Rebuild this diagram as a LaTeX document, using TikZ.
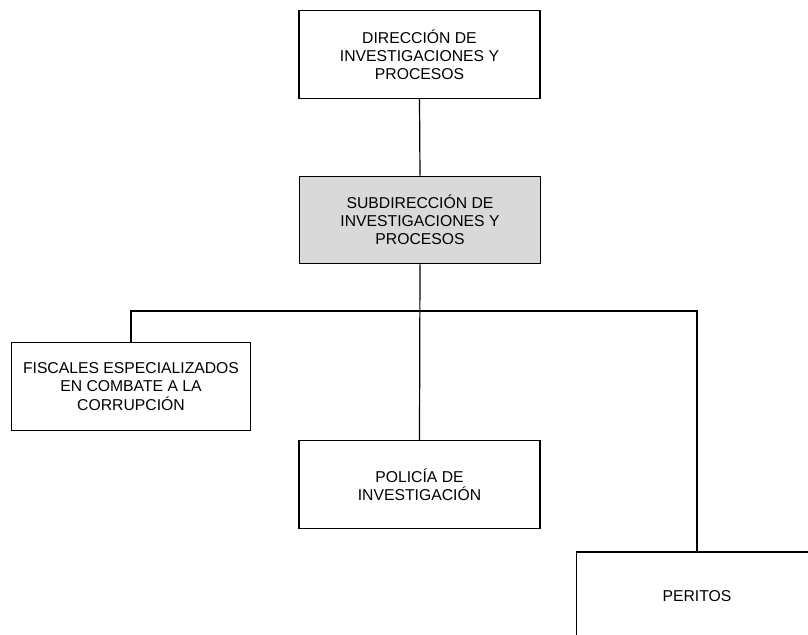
\documentclass[tikz,border=0pt]{standalone}
\usepackage{fontspec}
\setmainfont{Liberation Sans}
\definecolor{subgray}{RGB}{217,217,217}
\begin{document}
\begin{tikzpicture}[x=0.75pt,y=-0.75pt,
  orgbox/.style={draw=black, line width=0.9pt, fill=white, rectangle,
    minimum width=180.75pt, minimum height=65.5pt, align=center,
    inner sep=2pt, font=\fontsize{11.8pt}{13.6pt}\selectfont},
  link/.style={draw=black, line width=0.9pt}]
\clip (0,0) rectangle (808,635);
\useasboundingbox (0,0) rectangle (808,635);
\fill[white] (0,0) rectangle (808,635);
\node[orgbox] (dir) at (419.5,54.5) {DIRECCIÓN DE\\INVESTIGACIONES Y\\PROCESOS};
\node[orgbox, fill=subgray] (sub) at (420,220) {SUBDIRECCIÓN DE\\INVESTIGACIONES Y\\PROCESOS};
\node[orgbox, minimum width=179pt] (fis) at (131,386.5) {FISCALES ESPECIALIZADOS\\EN COMBATE A LA\\CORRUPCIÓN};
\node[orgbox] (pol) at (419.5,484.5) {POLICÍA DE\\INVESTIGACIÓN};
\node[orgbox, minimum height=66pt] (per) at (697,596) {PERITOS};
\coordinate (bus) at (0,311);
\coordinate (busR) at (per.north |- bus);
\draw[link] (dir.south) -- (sub.north);
\draw[link] (sub.south) -- (pol.north);
\draw[link] (fis.north) |- (busR) -- (per.north);
\end{tikzpicture}
\end{document}
